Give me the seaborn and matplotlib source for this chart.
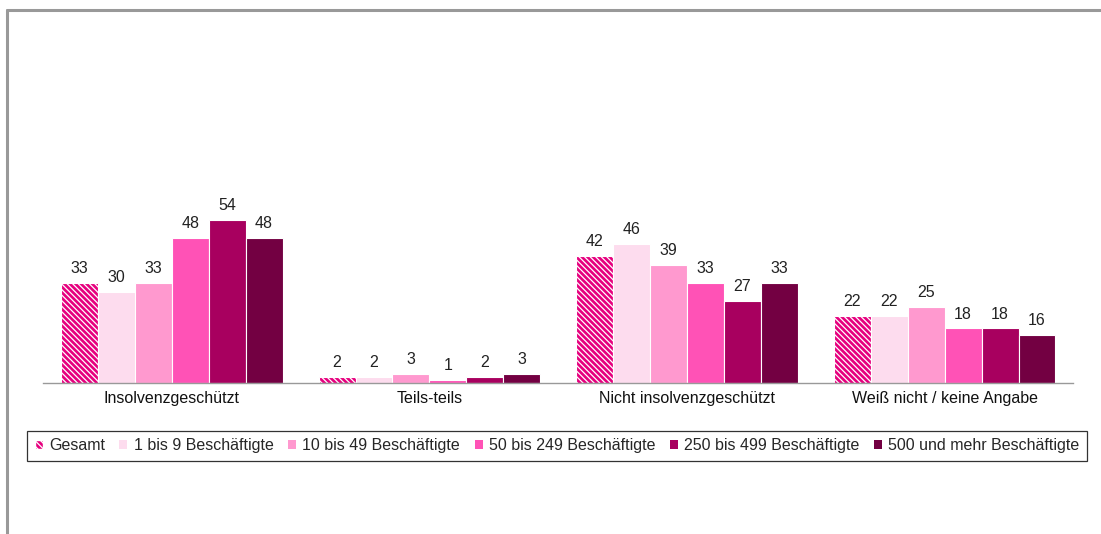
import pandas as pd
import matplotlib
matplotlib.use("Agg")
import matplotlib.pyplot as plt
import seaborn as sns
from matplotlib.patches import Patch
from matplotlib.lines import Line2D

# chart data
categories = ["Insolvenzgeschützt", "Teils-teils", "Nicht insolvenzgeschützt",
              "Weiß nicht / keine Angabe"]
groups = ["Gesamt", "1 bis 9 Beschäftigte", "10 bis 49 Beschäftigte",
          "50 bis 249 Beschäftigte", "250 bis 499 Beschäftigte",
          "500 und mehr Beschäftigte"]
gesamt = [33, 2, 42, 22]
b1_9 = [30, 2, 46, 22]
b10_49 = [33, 3, 39, 25]
b50_249 = [48, 1, 33, 18]
b250_499 = [54, 2, 27, 18]
b500 = [48, 3, 33, 16]

colors = ["#E6007E", "#FDDCEE", "#FF99CF", "#FF52B6", "#A8005F", "#730042"]

series = [gesamt, b1_9, b10_49, b50_249, b250_499, b500]
rows = []
for g, vals in zip(groups, series):
    for c, v in zip(categories, vals):
        rows.append({"Kategorie": c, "Gruppe": g, "Wert": v})
df = pd.DataFrame(rows)

sns.set_style("white")
plt.rcParams["font.family"] = ["Liberation Sans", "DejaVu Sans"]
plt.rcParams["hatch.linewidth"] = 0.9
plt.rcParams["hatch.color"] = "white"

HATCH = "\\" * 6
FS = 11.5

fig = plt.figure(figsize=(11.01, 5.34), dpi=100)
ax = fig.add_axes([0.039, 0.283, 0.936, 0.566])

sns.barplot(data=df, x="Kategorie", y="Wert", hue="Gruppe", order=categories,
            hue_order=groups, palette=colors, width=0.86, saturation=1,
            edgecolor="white", linewidth=0.8, legend=False, ax=ax)

# hatched "Gesamt" bars
for bar in ax.containers[0]:
    bar.set_hatch(HATCH)

for cont in ax.containers:
    ax.bar_label(cont, padding=5, fontsize=FS, color="#222222")

ax.set_ylim(0, 100)
ax.set_xlim(-0.5, 3.5)
ax.set_xlabel("")
ax.set_ylabel("")
ax.set_yticks([])
ax.tick_params(axis="x", length=0, pad=6, labelsize=FS, colors="#111111")
for s in ["top", "right", "left"]:
    ax.spines[s].set_visible(False)
ax.spines["bottom"].set_color("#999999")
ax.spines["bottom"].set_linewidth(1.0)

# legend
handles = []
for g, col in zip(groups, colors):
    if g == "Gesamt":
        handles.append(Patch(facecolor=col, edgecolor="white", hatch=HATCH, label=g))
    else:
        handles.append(Patch(facecolor=col, edgecolor="none", label=g))
leg = fig.legend(handles=handles, loc="center", bbox_to_anchor=(0.506, 0.165),
                 ncol=6, fontsize=FS, frameon=True, fancybox=False,
                 handlelength=0.5, handleheight=0.5, handletextpad=0.4,
                 columnspacing=0.9, borderpad=0.45, borderaxespad=0)
leg.get_frame().set_edgecolor("black")
leg.get_frame().set_linewidth(0.9)

# outer gray frame (left and top edges)
fig.add_artist(Line2D([0.0064, 0.0064], [0.0, 0.981], color="#999999", lw=2.2,
                      transform=fig.transFigure))
fig.add_artist(Line2D([0.0064, 1.0], [0.981, 0.981], color="#999999", lw=2.2,
                      transform=fig.transFigure))

fig.savefig("out.png", dpi=100)
plt.close(fig)
